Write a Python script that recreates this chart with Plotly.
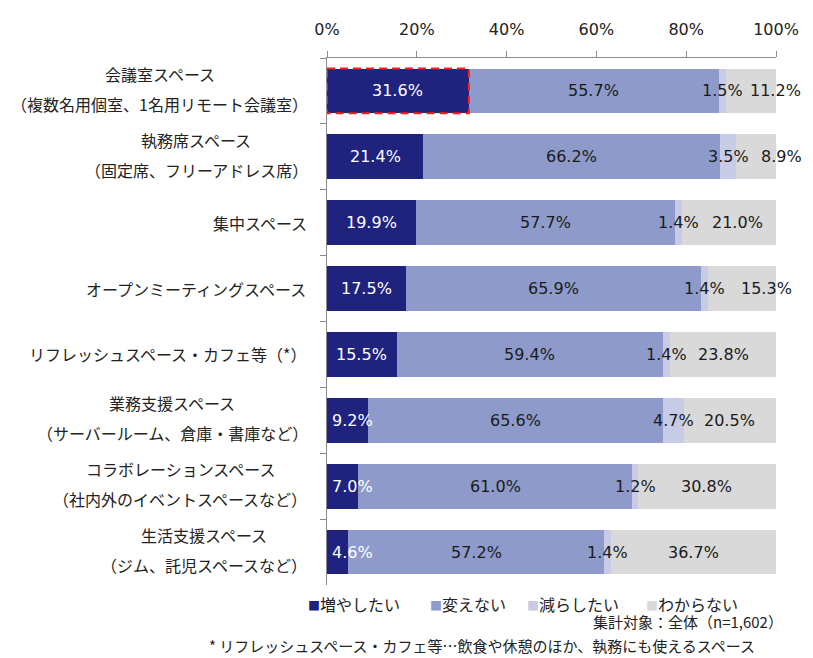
import plotly.graph_objects as go

# office space intentions by space type (%, n=1,602)
categories = [
    "会議室スペース<br>（複数名用個室、1名用リモート会議室）",
    "執務席スペース<br>（固定席、フリーアドレス席）",
    "集中スペース",
    "オープンミーティングスペース",
    "リフレッシュスペース・カフェ等（*）",
    "業務支援スペース<br>（サーバールーム、倉庫・書庫など）",
    "コラボレーションスペース<br>（社内外のイベントスペースなど）",
    "生活支援スペース<br>（ジム、託児スペースなど）",
]
series_names = ["増やしたい", "変えない", "減らしたい", "わからない"]
increase = [31.6, 21.4, 19.9, 17.5, 15.5, 9.2, 7.0, 4.6]
no_change = [55.7, 66.2, 57.7, 65.9, 59.4, 65.6, 61.0, 57.2]
decrease = [1.5, 3.5, 1.4, 1.4, 1.4, 4.7, 1.2, 1.4]
unknown = [11.2, 8.9, 21.0, 15.3, 23.8, 20.5, 30.8, 36.7]
tick_vals = [0, 20, 40, 60, 80, 100]
tick_text = ["0%", "20%", "40%", "60%", "80%", "100%"]

colours = ["#20237e", "#8e9aca", "#c7cbe6", "#d9d9d9"]
label_colours = ["#ffffff", "#1a1a1a", "#1a1a1a", "#1a1a1a"]
# the grey labels are nudged right in the original to avoid the tiny segments
grey_label_xshift = [25, 25, 9, 24, 0, 0, 0, 0]
# legend entries drawn by hand, left edge of each swatch in paper units
legend_x = [-0.046, 0.226, 0.442, 0.707]

NUM_FONT = "DejaVu Sans, Noto Sans CJK JP"
JP_FONT = "Noto Sans CJK JP, DejaVu Sans"
TEXT = "#222222"

all_series = [increase, no_change, decrease, unknown]

fig = go.Figure()
for name, vals, col in zip(series_names, all_series, colours):
    fig.add_trace(
        go.Bar(
            y=categories,
            x=vals,
            name=name,
            orientation="h",
            marker=dict(color=col, line=dict(width=0)),
            hoverinfo="x+name",
        )
    )

# value labels, placed from the data on the x axis
annotations = []
for s, vals in enumerate(all_series):
    for i, cat in enumerate(categories):
        left = sum(all_series[k][i] for k in range(s))
        v = vals[i]
        ann = dict(
            x=left + v / 2,
            y=cat,
            xref="x",
            yref="y",
            text="%.1f%%" % v,
            showarrow=False,
            font=dict(family=NUM_FONT, size=16, color=label_colours[s]),
        )
        if s == 0 and v < 10:
            ann.update(x=0, xanchor="left", xshift=3)
        if s == 3:
            ann["xshift"] = grey_label_xshift[i]
        annotations.append(ann)


# category labels: lines centred on each other, block right aligned
def text_width(t):
    return sum(16 if ord(c) > 0x2000 else 9 for c in t)


right_px = -19
for i, cat in enumerate(categories):
    lines = cat.split("<br>")
    w = max(text_width(l) for l in lines)
    shifts = [0] if len(lines) == 1 else [17, -13]
    for line, ys in zip(lines, shifts):
        annotations.append(
            dict(
                x=0,
                y=cat,
                xref="x",
                yref="y",
                text=line,
                showarrow=False,
                xanchor="center",
                xshift=right_px - w / 2,
                yshift=ys,
                font=dict(family=JP_FONT, size=16, color=TEXT),
            )
        )

# hand-made legend
for name, col, lx in zip(series_names, colours, legend_x):
    annotations.append(
        dict(
            x=lx, y=-0.037, xref="paper", yref="paper",
            text="<span style='color:%s;font-size:12px'>■</span>%s" % (col, name),
            showarrow=False, xanchor="left", yanchor="middle",
            font=dict(family=JP_FONT, size=16, color=TEXT),
        )
    )

annotations.append(
    dict(
        x=1.02, y=-0.07, xref="paper", yref="paper",
        text="集計対象：全体（n=1,602）", showarrow=False,
        xanchor="right", yanchor="middle",
        font=dict(family=JP_FONT, size=15, color=TEXT),
    )
)
annotations.append(
    dict(
        x=-0.267, y=-0.114, xref="paper", yref="paper",
        text="* リフレッシュスペース・カフェ等…飲食や休憩のほか、執務にも使えるスペース",
        showarrow=False, xanchor="left", yanchor="middle",
        font=dict(family=JP_FONT, size=15, color=TEXT),
    )
)

# red dashed highlight round the first segment
fig.add_shape(
    type="rect",
    xref="x",
    yref="y",
    x0=0,
    x1=increase[0],
    y0=-0.34,
    y1=0.34,
    line=dict(color="#ff1a1a", width=2, dash="8px,5px"),
)

# the page body adds 8px on the top and left, so the figure is 8px smaller
fig.update_layout(
    barmode="stack",
    bargap=0.32,
    width=805,
    height=650,
    autosize=False,
    margin=dict(l=319, r=37, t=30, b=73),
    plot_bgcolor="white",
    paper_bgcolor="white",
    annotations=annotations,
    showlegend=False,
)
fig.update_xaxes(
    side="top",
    range=[0, 100],
    tickvals=tick_vals,
    ticktext=tick_text,
    ticks="outside",
    ticklen=6,
    tickcolor="#8c8c8c",
    showline=True,
    linecolor="#8c8c8c",
    showgrid=False,
    zeroline=False,
    ticklabelstandoff=10,
    tickfont=dict(family=NUM_FONT, size=16, color=TEXT),
)
fig.update_yaxes(
    categoryorder="array",
    categoryarray=categories,
    range=[len(categories) - 0.5, -0.5],
    showticklabels=False,
    ticks="outside",
    tickson="boundaries",
    ticklen=6,
    tickcolor="#8c8c8c",
    showline=True,
    linecolor="#8c8c8c",
    showgrid=False,
)

fig.write_html("out.html")
